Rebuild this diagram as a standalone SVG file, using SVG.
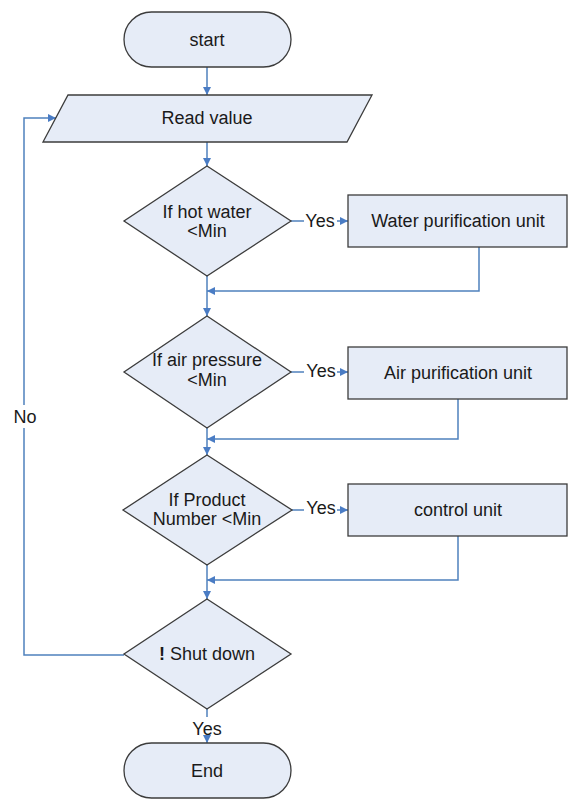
<svg xmlns="http://www.w3.org/2000/svg" width="568" height="799" viewBox="0 0 568 799">
<defs>
<style>
.n{fill:#e6ecf7;stroke:#3c3c3c;stroke-width:1.3}
.t{font-family:"Liberation Sans",Arial,sans-serif;font-size:18px;fill:#1a1a1a;text-anchor:middle;dominant-baseline:central}
.c{fill:none;stroke:#4f81bd;stroke-width:1.5}
</style>
<marker id="a" viewBox="0 0 10 10" refX="10" refY="5" markerWidth="8" markerHeight="8" markerUnits="userSpaceOnUse" orient="auto">
<path d="M0,0 L10,5 L0,10 Z" fill="#4a7cc4"/>
</marker>
</defs>
<rect width="568" height="799" fill="#ffffff"/>
<g id="connectors">
<path class="c" d="M207,67 V95" marker-end="url(#a)"/>
<path class="c" d="M207,142 V166" marker-end="url(#a)"/>
<path class="c" d="M291,221 H304"/>
<path class="c" d="M337,221 H348" marker-end="url(#a)"/>
<path class="c" d="M479,247 V291 H207" marker-end="url(#a)"/>
<path class="c" d="M207,276 V316" marker-end="url(#a)"/>
<path class="c" d="M291,372 H304"/>
<path class="c" d="M337,372 H348" marker-end="url(#a)"/>
<path class="c" d="M458,399 V439 H207" marker-end="url(#a)"/>
<path class="c" d="M207,428 V455" marker-end="url(#a)"/>
<path class="c" d="M292,510 H304"/>
<path class="c" d="M337,510 H348" marker-end="url(#a)"/>
<path class="c" d="M458,536 V580 H207" marker-end="url(#a)"/>
<path class="c" d="M207,565 V599" marker-end="url(#a)"/>
<path class="c" d="M207,709 V717"/>
<path class="c" d="M207,739 V743" marker-end="url(#a)"/>
<path class="c" d="M124,655 H24 V428"/>
<path class="c" d="M24,405 V118 H56" marker-end="url(#a)"/>
<text class="t" x="320" y="221">Yes</text>
<text class="t" x="321" y="371">Yes</text>
<text class="t" x="321" y="508">Yes</text>
<text class="t" x="207" y="729">Yes</text>
<text class="t" x="25" y="417">No</text>
</g>
<g id="start">
<rect class="n" x="124" y="12" width="167" height="55" rx="27.5"/>
<text class="t" x="207" y="40">start</text>
</g>
<g id="read">
<path class="n" d="M68,95 H372 L347,142 H43 Z"/>
<text class="t" x="207" y="118">Read value</text>
</g>
<g id="d1">
<path class="n" d="M207,166 L291,221 L207,276 L124,221 Z"/>
<text class="t" x="207" y="212">If hot water</text>
<text class="t" x="207" y="231">&lt;Min</text>
</g>
<g id="water">
<rect class="n" x="348" y="195" width="219" height="52"/>
<text class="t" x="458" y="221">Water purification unit</text>
</g>
<g id="d2">
<path class="n" d="M207,316 L291,372 L207,428 L124,372 Z"/>
<text class="t" x="207" y="360">If air pressure</text>
<text class="t" x="207" y="380">&lt;Min</text>
</g>
<g id="air">
<rect class="n" x="348" y="347" width="219" height="52"/>
<text class="t" x="458" y="373">Air purification unit</text>
</g>
<g id="d3">
<path class="n" d="M207,455 L292,510 L207,565 L123,510 Z"/>
<text class="t" x="207" y="500">If Product</text>
<text class="t" x="207" y="519">Number &lt;Min</text>
</g>
<g id="control">
<rect class="n" x="348" y="484" width="219" height="52"/>
<text class="t" x="458" y="510">control unit</text>
</g>
<g id="d4">
<path class="n" d="M207,599 L291,654 L207,709 L124,654 Z"/>
<text class="t" x="207" y="654"><tspan font-weight="bold">!</tspan> Shut down</text>
</g>
<g id="end">
<rect class="n" x="124" y="743" width="167" height="55" rx="27.5"/>
<text class="t" x="207" y="771">End</text>
</g>
</svg>
